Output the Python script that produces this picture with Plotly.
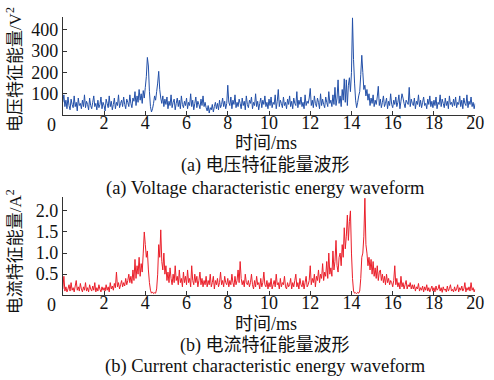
import numpy as np
import plotly.graph_objects as go

# time axis (ms), 0.05 ms step
time_ms = [round(i * 0.05, 2) for i in range(401)]

voltage_energy = [
    60, 95, 40, 70, 30, 85, 45, 25, 75, 50, 35, 90, 40, 60, 20, 80, 45, 55, 30, 70,
    40, 95, 35, 65, 50, 25, 80, 45, 30, 60, 90, 40, 55, 25, 70, 35, 50, 85, 30, 60,
    45, 20, 75, 55, 35, 90, 40, 65, 25, 50, 80, 30, 60, 45, 95, 35, 55, 70, 40, 85,
    50, 30, 75, 60, 40, 95, 55, 35, 80, 65, 110, 45, 90, 60, 120, 70, 100, 55, 115, 80,
    130, 180, 270, 230, 110, 40, 15, 30, 55, 90, 70, 110, 150, 205, 120, 80, 55, 90, 40, 75,
    50, 85, 30, 65, 45, 95, 35, 60, 75, 25, 55, 80, 40, 70, 30, 90, 50, 35, 65, 45,
    80, 30, 60, 45, 100, 40, 70, 25, 55, 85, 35, 65, 50, 30, 75, 45, 90, 40, 60, 35,
    20, 45, 10, 35, 25, 50, 15, 40, 60, 30, 55, 25, 70, 35, 50, 80, 40, 65, 30, 55,
    140, 60, 45, 85, 30, 70, 50, 95, 35, 60, 40, 75, 55, 30, 80, 45, 65, 25, 90, 50,
    35, 70, 55, 85, 30, 60, 45, 100, 40, 65, 25, 55, 80, 35, 70, 50, 90, 40, 60, 30,
    75, 45, 85, 35, 60, 50, 95, 30, 65, 120, 40, 70, 55, 35, 85, 45, 60, 30, 75, 50,
    90, 40, 65, 30, 80, 55, 45, 110, 35, 70, 50, 85, 40, 60, 30, 95, 45, 65, 55, 80,
    125, 45, 70, 35, 90, 55, 40, 80, 60, 30, 100, 45, 75, 50, 35, 85, 60, 40, 110, 55,
    70, 40, 95, 50, 130, 45, 80, 165, 55, 90, 40, 120, 70, 170, 60, 165, 45, 140, 175, 110,
    200, 455, 260, 150, 70, 35, 60, 90, 110, 190, 280, 200, 120, 140, 90, 120, 70, 100, 45, 80,
    55, 95, 40, 70, 50, 85, 135, 45, 75, 35, 60, 90, 40, 55, 80, 30, 65, 45, 100, 50,
    35, 70, 50, 85, 40, 60, 95, 30, 65, 100, 80, 55, 35, 70, 60, 50, 130, 40, 75, 55,
    45, 80, 30, 65, 50, 95, 40, 70, 35, 60, 85, 45, 55, 30, 75, 50, 90, 40, 65, 35,
    70, 45, 85, 30, 60, 50, 95, 40, 75, 55, 35, 80, 45, 65, 30, 90, 50, 60, 40, 75,
    45, 85, 35, 60, 50, 90, 40, 70, 30, 80, 55, 45, 95, 35, 65, 50, 85, 40, 60, 30,
    55,
]

current_energy = [
    0.15, 0.45, 0.10, 0.20, 0.08, 0.15, 0.25, 0.10, 0.30, 0.12, 0.18, 0.08, 0.22, 0.35, 0.12, 0.20, 0.10, 0.28, 0.15, 0.08,
    0.20, 0.12, 0.30, 0.10, 0.18, 0.08, 0.25, 0.15, 0.10, 0.22, 0.12, 0.30, 0.08, 0.18, 0.10, 0.25, 0.14, 0.08, 0.20, 0.12,
    0.18, 0.10, 0.25, 0.12, 0.20, 0.08, 0.30, 0.15, 0.22, 0.12, 0.28, 0.18, 0.55, 0.20, 0.30, 0.15, 0.25, 0.35, 0.20, 0.30,
    0.22, 0.40, 0.25, 0.35, 0.50, 0.30, 0.45, 0.28, 0.60, 0.35, 0.85, 0.40, 0.70, 0.50, 0.90, 0.45, 0.75, 0.55, 1.00, 1.50,
    1.20, 0.90, 1.05, 0.60, 0.30, 0.12, 0.05, 0.08, 0.04, 0.06, 0.05, 0.15, 0.50, 1.20, 0.90, 1.55, 0.80, 0.60, 1.00, 0.50,
    0.70, 0.35, 0.55, 0.30, 0.65, 0.40, 0.25, 0.50, 0.30, 0.70, 0.35, 0.45, 0.25, 0.60, 0.30, 0.40, 0.20, 0.55, 0.30, 0.45,
    0.25, 0.60, 0.30, 0.40, 0.20, 0.70, 0.35, 0.25, 0.50, 0.30, 0.45, 0.20, 0.35, 0.55, 0.25, 0.40, 0.20, 0.35, 0.25, 0.45,
    0.20, 0.35, 0.25, 0.50, 0.20, 0.30, 0.45, 0.15, 0.35, 0.25, 0.40, 0.20, 0.30, 0.55, 0.25, 0.35, 0.20, 0.45, 0.30, 0.25,
    0.40, 0.20, 0.35, 0.25, 0.50, 0.30, 0.20, 0.45, 0.25, 0.35, 0.60, 0.30, 0.80, 0.40, 0.25, 0.35, 0.20, 0.50, 0.30, 0.25,
    0.35, 0.20, 0.30, 0.50, 0.25, 0.15, 0.35, 0.20, 0.45, 0.25, 0.30, 0.15, 0.40, 0.20, 0.30, 0.55, 0.25, 0.20, 0.35, 0.15,
    0.30, 0.20, 0.40, 0.15, 0.25, 0.35, 0.20, 0.50, 0.25, 0.30, 0.15, 0.40, 0.20, 0.30, 0.25, 0.45, 0.20, 0.15, 0.30, 0.20,
    0.25, 0.40, 0.15, 0.30, 0.20, 0.35, 0.50, 0.20, 0.30, 0.15, 0.40, 0.25, 0.20, 0.35, 0.15, 0.30, 0.45, 0.20, 0.25, 0.35,
    0.70, 0.25, 0.40, 0.30, 0.50, 0.20, 0.45, 0.35, 0.60, 0.30, 0.50, 0.40, 0.75, 0.35, 0.55, 0.45, 0.80, 0.40, 1.00, 0.50,
    0.65, 0.45, 1.05, 0.60, 0.80, 1.30, 0.70, 0.55, 0.90, 1.00, 0.70, 1.20, 0.90, 1.60, 1.10, 1.40, 1.90, 1.30, 1.75, 2.00,
    1.00, 0.40, 0.10, 0.05, 0.06, 0.04, 0.07, 0.05, 0.10, 0.40, 0.90, 1.00, 1.40, 2.30, 1.20, 1.00, 0.70, 0.90, 0.60, 0.85,
    0.50, 0.80, 0.45, 0.65, 0.40, 0.70, 0.35, 0.55, 0.60, 0.35, 0.50, 0.30, 0.45, 0.25, 0.50, 0.30, 0.40, 0.25, 0.35, 0.30,
    0.20, 0.35, 0.70, 0.25, 0.40, 0.20, 0.30, 0.15, 0.45, 0.20, 0.30, 0.15, 0.25, 0.35, 0.15, 0.25, 0.20, 0.30, 0.15, 0.25,
    0.15, 0.25, 0.10, 0.20, 0.15, 0.28, 0.10, 0.18, 0.12, 0.22, 0.08, 0.20, 0.12, 0.25, 0.10, 0.18, 0.08, 0.15, 0.22, 0.10,
    0.18, 0.08, 0.22, 0.12, 0.15, 0.25, 0.10, 0.18, 0.07, 0.20, 0.12, 0.15, 0.08, 0.22, 0.10, 0.16, 0.25, 0.10, 0.14, 0.08,
    0.20, 0.10, 0.15, 0.25, 0.08, 0.18, 0.12, 0.22, 0.10, 0.15, 0.30, 0.08, 0.18, 0.12, 0.20, 0.10, 0.30, 0.12, 0.18, 0.08,
    0.15,
]

x_ticks = [2, 4, 6, 8, 10, 12, 14, 16, 18, 20]
v_ticks = [100, 200, 300, 400]
c_ticks = [0.5, 1.0, 1.5, 2.0]
c_tick_text = ["0.5", "1.0", "1.5", "2.0"]

W, H = 494, 380
FONT = "Liberation Serif, Times New Roman, Noto Sans CJK SC, serif"

def px_x(p):
    return p / W

def px_y(p):
    return 1 - p / H

fig = go.Figure()
fig.add_trace(go.Scatter(x=time_ms, y=voltage_energy, mode="lines",
                         line=dict(color="#2350a8", width=1, simplify=False),
                         xaxis="x", yaxis="y", showlegend=False))
fig.add_trace(go.Scatter(x=time_ms, y=current_energy, mode="lines",
                         line=dict(color="#ea1f2a", width=1, simplify=False),
                         xaxis="x2", yaxis="y2", showlegend=False))

xdom = [px_x(64), px_x(484)]
axis_common = dict(showline=True, linecolor="#333", linewidth=1, ticks="inside",
                   ticklen=4, tickcolor="#333", showgrid=False, zeroline=False,
                   tickfont=dict(family=FONT, size=18, color="#111"))

fig.update_layout(
    width=W, height=H, margin=dict(l=0, r=0, t=0, b=0),
    paper_bgcolor="white", plot_bgcolor="white",
    xaxis=dict(domain=xdom, range=[0, 20], tickvals=x_ticks, anchor="y",
               ticklabelstandoff=-9, **axis_common),
    yaxis=dict(domain=[px_y(108), px_y(7)], range=[0, 460],
               tickvals=v_ticks + [460], ticktext=[str(v) for v in v_ticks] + [" "],
               anchor="x", **axis_common),
    xaxis2=dict(domain=xdom, range=[0, 20], tickvals=x_ticks, anchor="y2",
                ticklabelstandoff=-9, **axis_common),
    yaxis2=dict(domain=[px_y(293), px_y(192)], range=[0, 2.33],
                tickvals=c_ticks + [2.33], ticktext=c_tick_text + [" "],
                anchor="x2", **axis_common),
)

def ann(text, x, y, size=18, angle=0):
    fig.add_annotation(text=text, x=px_x(x), y=px_y(y), xref="paper", yref="paper",
                       showarrow=False, textangle=angle, xanchor="center", yanchor="middle",
                       font=dict(family=FONT, size=size, color="#111"))

# origin labels
ann("0", 52, 118, size=18)
ann("0", 52, 303, size=18)
# x titles
ann("时间/ms", 271, 137)
ann("时间/ms", 271, 322)
# captions
ann("(a) 电压特征能量波形", 270, 160)
ann("(a) Voltage characteristic energy waveform", 270, 183, size=18.5)
ann("(b) 电流特征能量波形", 270, 345)
ann("(b) Current characteristic energy waveform", 270, 366, size=18.5)
# y titles
ann("电压特征能量/V<sup>2</sup>", 15, 61, size=17, angle=-90)
ann("电流特征能量/A<sup>2</sup>", 15, 248, size=17, angle=-90)

fig.write_html("out.html")
